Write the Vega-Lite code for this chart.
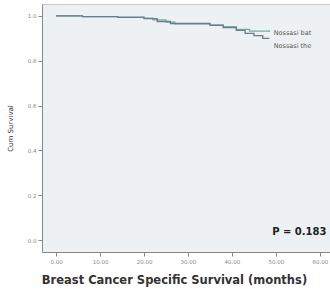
{
  "$schema": "https://vega.github.io/schema/vega-lite/v6.json",
  "width": 288,
  "height": 248,
  "autosize": "none",
  "padding": {"left": 42, "top": 4, "right": 0, "bottom": 45},
  "background": "white",
  "view": {"fill": "#eef1f4", "stroke": "#c8c8c8", "strokeWidth": 1},
  "datasets": {
    "curves": [
      {"series": "A", "month": 0, "surv": 1.0},
      {"series": "A", "month": 6, "surv": 0.997},
      {"series": "A", "month": 14, "surv": 0.994},
      {"series": "A", "month": 20, "surv": 0.99},
      {"series": "A", "month": 22, "surv": 0.982},
      {"series": "A", "month": 25, "surv": 0.972},
      {"series": "A", "month": 27, "surv": 0.965},
      {"series": "A", "month": 35, "surv": 0.96},
      {"series": "A", "month": 38, "surv": 0.952},
      {"series": "A", "month": 41, "surv": 0.94},
      {"series": "A", "month": 44, "surv": 0.932},
      {"series": "A", "month": 48.5, "surv": 0.928},
      {"series": "B", "month": 0, "surv": 1.0},
      {"series": "B", "month": 6, "surv": 0.997},
      {"series": "B", "month": 14, "surv": 0.993},
      {"series": "B", "month": 20, "surv": 0.988},
      {"series": "B", "month": 23, "surv": 0.975},
      {"series": "B", "month": 26, "surv": 0.966},
      {"series": "B", "month": 35, "surv": 0.958},
      {"series": "B", "month": 38, "surv": 0.948},
      {"series": "B", "month": 41, "surv": 0.935},
      {"series": "B", "month": 43, "surv": 0.922},
      {"series": "B", "month": 45, "surv": 0.912},
      {"series": "B", "month": 47, "surv": 0.9},
      {"series": "B", "month": 48.5, "surv": 0.9}
    ],
    "labels": [
      {"series": "A", "month": 49.5, "surv": 0.924, "text": "Nossasi bat"},
      {"series": "B", "month": 49.5, "surv": 0.866, "text": "Nossasi the"}
    ],
    "pval": [
      {"month": 61.5, "surv": 0.036, "text": "P = 0.183"}
    ]
  },
  "layer": [
    {
      "data": {"name": "curves"},
      "mark": {"type": "line", "interpolate": "step-after", "strokeWidth": 1.3},
      "encoding": {
        "x": {
          "field": "month", "type": "quantitative",
          "scale": {"domain": [-3.2, 62.3], "nice": false, "zero": false},
          "axis": {
            "values": [0, 10, 20, 30, 40, 50, 60],
            "format": ".2f",
            "title": "Breast Cancer Specific Survival (months)",
            "titleFont": "DejaVu Sans", "titleFontSize": 11.5, "titleFontWeight": "bold", "titleColor": "#333",
            "titlePadding": 10,
            "titleX": 132,
            "labelFont": "DejaVu Sans", "labelFontSize": 5.5, "labelColor": "#888",
            "labelPadding": 3,
            "tickSize": 4, "tickColor": "#888", "domainColor": "#888",
            "grid": false
          }
        },
        "y": {
          "field": "surv", "type": "quantitative",
          "scale": {"domain": [-0.053, 1.053], "nice": false, "zero": false},
          "axis": {
            "values": [0, 0.2, 0.4, 0.6, 0.8, 1.0],
            "format": ".1f",
            "title": "Cum Survival",
            "titleFont": "DejaVu Sans", "titleFontSize": 7, "titleFontWeight": "normal", "titleColor": "#333",
            "titlePadding": 14,
            "labelFont": "DejaVu Sans", "labelFontSize": 5.5, "labelColor": "#888",
            "labelPadding": 2,
            "tickSize": 4, "tickColor": "#888", "domainColor": "#888",
            "grid": false
          }
        },
        "color": {
          "field": "series", "type": "nominal",
          "scale": {"domain": ["A", "B"], "range": ["#6fb0a0", "#6c7c88"]},
          "legend": null
        }
      }
    },
    {
      "data": {"name": "labels"},
      "mark": {"type": "text", "align": "left", "baseline": "middle", "font": "DejaVu Sans", "fontSize": 6.5, "color": "#555"},
      "encoding": {
        "x": {"field": "month", "type": "quantitative"},
        "y": {"field": "surv", "type": "quantitative"},
        "text": {"field": "text"}
      }
    },
    {
      "data": {"name": "pval"},
      "mark": {"type": "text", "align": "right", "baseline": "middle", "font": "DejaVu Sans", "fontSize": 10, "fontWeight": "bold", "color": "#222"},
      "encoding": {
        "x": {"field": "month", "type": "quantitative"},
        "y": {"field": "surv", "type": "quantitative"},
        "text": {"field": "text"}
      }
    }
  ]
}
